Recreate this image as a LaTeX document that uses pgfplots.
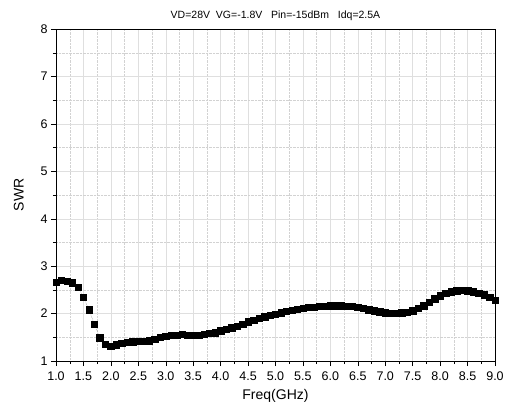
\documentclass[border=0pt]{standalone}
\usepackage{pgfplots}
\pgfplotsset{compat=1.18}
\usepackage{fontspec}
\setmainfont{Liberation Sans}

\begin{document}
\begin{tikzpicture}
\useasboundingbox (-56pt,-49pt) rectangle (452pt,361pt);
\begin{axis}[
  at={(0,0)}, anchor=south west,
  scale only axis,
  width=439pt, height=332pt,
  xmin=1, xmax=9, ymin=1, ymax=8,
  xtick={1,1.5,...,9},
  ytick={1,2,...,8},
  minor x tick num=1,
  minor y tick num=1,
  xticklabel style={yshift=-2pt, /pgf/number format/fixed,
    /pgf/number format/fixed zerofill, /pgf/number format/precision=1},
  /pgf/number format/assume math mode=true,
  tick label style={font=\fontsize{12.5}{14}\selectfont},
  tick align=outside,
  tick pos=left,
  major tick length=5pt,
  minor tick length=3pt,
  tick style={black, thin},
  axis line style={black, semithick},
  grid=both,
  major grid style={gray!25, thin},
  minor grid style={gray!35, densely dotted, thin},
  xlabel={Freq(GHz)},
  ylabel={SWR},
  label style={font=\fontsize{14}{16}\selectfont},
  xlabel style={yshift=-2pt},
  ylabel style={yshift=10pt},
  title={VD=28V\ \ VG=-1.8V\ \ \ Pin=-15dBm\ \ \ Idq=2.5A},
  title style={font=\fontsize{10.5}{12}\selectfont, yshift=-1pt},
]
\addplot[black!70, densely dotted, thin, mark=square*, mark size=3.2pt,
  mark options={solid, fill=black, draw=black}] coordinates {
(1.0,2.66) (1.1,2.70) (1.2,2.68) (1.3,2.65) (1.4,2.56) (1.5,2.35)
(1.6,2.08) (1.7,1.78) (1.8,1.49) (1.9,1.36) (2.0,1.31) (2.1,1.34)
(2.2,1.37) (2.3,1.40) (2.4,1.41) (2.5,1.42) (2.6,1.42) (2.7,1.43)
(2.8,1.46) (2.9,1.50) (3.0,1.52) (3.1,1.54) (3.2,1.55) (3.3,1.56)
(3.4,1.55) (3.5,1.54) (3.6,1.55) (3.7,1.56) (3.8,1.58) (3.9,1.60)
(4.0,1.64) (4.1,1.67) (4.2,1.70) (4.3,1.74) (4.4,1.78) (4.5,1.83)
(4.6,1.86) (4.7,1.90) (4.8,1.93) (4.9,1.96) (5.0,1.99) (5.1,2.02)
(5.2,2.05) (5.3,2.07) (5.4,2.09) (5.5,2.11) (5.6,2.13) (5.7,2.14)
(5.8,2.15) (5.9,2.16) (6.0,2.17) (6.1,2.17) (6.2,2.17) (6.3,2.16)
(6.4,2.15) (6.5,2.13) (6.6,2.11) (6.7,2.08) (6.8,2.06) (6.9,2.04)
(7.0,2.02) (7.1,2.01) (7.2,2.01) (7.3,2.02) (7.4,2.03) (7.5,2.06)
(7.6,2.11) (7.7,2.17) (7.8,2.24) (7.9,2.31) (8.0,2.38) (8.1,2.43)
(8.2,2.46) (8.3,2.48) (8.4,2.49) (8.5,2.48) (8.6,2.46) (8.7,2.43)
(8.8,2.40) (8.9,2.35) (9.0,2.28)
};
\end{axis}
\end{tikzpicture}
\end{document}
